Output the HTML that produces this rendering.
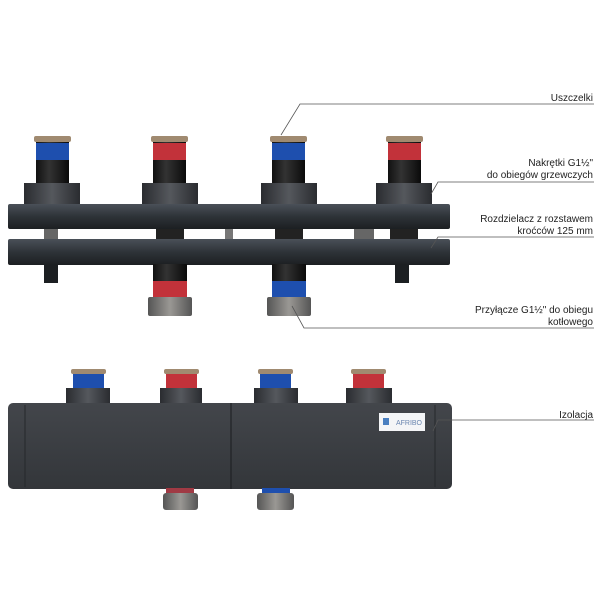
<!DOCTYPE html>
<html><head><meta charset="utf-8"><style>
html,body{margin:0;padding:0;background:#fff;}
svg{display:block}
text{font-family:"Liberation Sans",sans-serif;font-size:10px;fill:#222;text-anchor:end}
</style></head><body>
<svg width="600" height="600" viewBox="0 0 600 600" xmlns="http://www.w3.org/2000/svg">
<defs>
<linearGradient id="bar" x1="0" y1="0" x2="0" y2="1"><stop offset="0" stop-color="#4a5058"/><stop offset="0.5" stop-color="#2e3338"/><stop offset="1" stop-color="#1c1f22"/></linearGradient>
<linearGradient id="pipe" x1="0" y1="0" x2="1" y2="0"><stop offset="0" stop-color="#111"/><stop offset="0.4" stop-color="#333"/><stop offset="1" stop-color="#0a0a0a"/></linearGradient>
<linearGradient id="nut" x1="0" y1="0" x2="1" y2="0"><stop offset="0" stop-color="#2a2c30"/><stop offset="0.5" stop-color="#55585d"/><stop offset="1" stop-color="#2a2c30"/></linearGradient>
<linearGradient id="fit" x1="0" y1="0" x2="1" y2="0"><stop offset="0" stop-color="#555"/><stop offset="0.5" stop-color="#9a9894"/><stop offset="1" stop-color="#555"/></linearGradient>
<linearGradient id="ins" x1="0" y1="0" x2="0" y2="1"><stop offset="0" stop-color="#43464b"/><stop offset="1" stop-color="#33363a"/></linearGradient>
</defs>

<g>
<rect x="36" y="138" width="33" height="48" fill="url(#pipe)"/>
<rect x="36" y="143" width="33" height="17" fill="#1e4fae"/>
<rect x="34" y="136" width="37" height="6" rx="2" fill="#a08a70"/>
<rect x="24" y="183" width="56" height="22" fill="url(#nut)"/>
<rect x="153" y="138" width="33" height="48" fill="url(#pipe)"/>
<rect x="153" y="143" width="33" height="17" fill="#c2323a"/>
<rect x="151" y="136" width="37" height="6" rx="2" fill="#a08a70"/>
<rect x="142" y="183" width="56" height="22" fill="url(#nut)"/>
<rect x="272" y="138" width="33" height="48" fill="url(#pipe)"/>
<rect x="272" y="143" width="33" height="17" fill="#1e4fae"/>
<rect x="270" y="136" width="37" height="6" rx="2" fill="#a08a70"/>
<rect x="261" y="183" width="56" height="22" fill="url(#nut)"/>
<rect x="388" y="138" width="33" height="48" fill="url(#pipe)"/>
<rect x="388" y="143" width="33" height="17" fill="#c2323a"/>
<rect x="386" y="136" width="37" height="6" rx="2" fill="#a08a70"/>
<rect x="376" y="183" width="56" height="22" fill="url(#nut)"/>

<rect x="44" y="228" width="14" height="12" fill="#666"/>
<rect x="156" y="228" width="28" height="12" fill="#222"/>
<rect x="225" y="228" width="8" height="12" fill="#777"/>
<rect x="275" y="228" width="28" height="12" fill="#222"/>
<rect x="354" y="228" width="20" height="12" fill="#666"/>
<rect x="390" y="228" width="28" height="12" fill="#222"/>

<rect x="8" y="204" width="442" height="25" rx="2" fill="url(#bar)"/>
<rect x="8" y="239" width="442" height="26" rx="2" fill="url(#bar)"/>

<rect x="44" y="264" width="14" height="19" fill="#1c1f22"/>
<rect x="395" y="264" width="14" height="19" fill="#1c1f22"/>

<rect x="153" y="264" width="34" height="34" fill="url(#pipe)"/>
<rect x="153" y="281" width="34" height="16" fill="#c2323a"/>
<rect x="148" y="297" width="44" height="19" rx="2" fill="url(#fit)"/>
<rect x="272" y="264" width="34" height="34" fill="url(#pipe)"/>
<rect x="272" y="281" width="34" height="16" fill="#1e4fae"/>
<rect x="267" y="297" width="44" height="19" rx="2" fill="url(#fit)"/>
</g>

<g>
<rect x="73" y="372" width="31" height="18" fill="#1e4fae"/><rect x="71" y="369" width="35" height="5" rx="2" fill="#a08a70"/>
<rect x="66" y="388" width="44" height="17" fill="url(#nut)"/>
<rect x="166" y="372" width="31" height="18" fill="#c2323a"/><rect x="164" y="369" width="35" height="5" rx="2" fill="#a08a70"/>
<rect x="160" y="388" width="42" height="17" fill="url(#nut)"/>
<rect x="260" y="372" width="31" height="18" fill="#1e4fae"/><rect x="258" y="369" width="35" height="5" rx="2" fill="#a08a70"/>
<rect x="254" y="388" width="44" height="17" fill="url(#nut)"/>
<rect x="353" y="372" width="31" height="18" fill="#c2323a"/><rect x="351" y="369" width="35" height="5" rx="2" fill="#a08a70"/>
<rect x="346" y="388" width="46" height="17" fill="url(#nut)"/>

<rect x="8" y="403" width="444" height="86" rx="5" fill="url(#ins)"/>
<line x1="231" y1="403" x2="231" y2="489" stroke="#1a1c1f" stroke-width="1"/>
<line x1="25" y1="405" x2="25" y2="487" stroke="#25282b" stroke-width="1"/>
<line x1="435" y1="405" x2="435" y2="487" stroke="#25282b" stroke-width="1"/>
<rect x="379" y="413" width="46" height="18" fill="#f4f5f7"/>
<rect x="383" y="418" width="6" height="7" fill="#4a7fc0"/>
<text x="422" y="425" style="font-size:7px;fill:#6a86b0">AFRIBO</text>

<rect x="166" y="488" width="28" height="6" fill="#a03a44"/>
<rect x="163" y="493" width="35" height="17" rx="3" fill="url(#fit)"/>
<rect x="262" y="488" width="28" height="6" fill="#1e4fae"/>
<rect x="257" y="493" width="37" height="17" rx="3" fill="url(#fit)"/>
</g>

<g stroke="#555" stroke-width="0.8" fill="none">
<polyline points="281,135 300,104 594,104"/>
<polyline points="431,194 438,182 594,182"/>
<polyline points="431,248 438,237 594,237"/>
<polyline points="292,306 304,328 594,328"/>
<polyline points="433,431 438,420 594,420"/>
</g>
<text x="593" y="101">Uszczelki</text>
<text x="593" y="166">Nakrętki G1½"</text>
<text x="593" y="178">do obiegów grzewczych</text>
<text x="593" y="222">Rozdzielacz z rozstawem</text>
<text x="593" y="234">kroćców 125 mm</text>
<text x="593" y="313">Przyłącze G1½" do obiegu</text>
<text x="593" y="325">kotłowego</text>
<text x="593" y="418">Izolacja</text>
</svg>
</body></html>
